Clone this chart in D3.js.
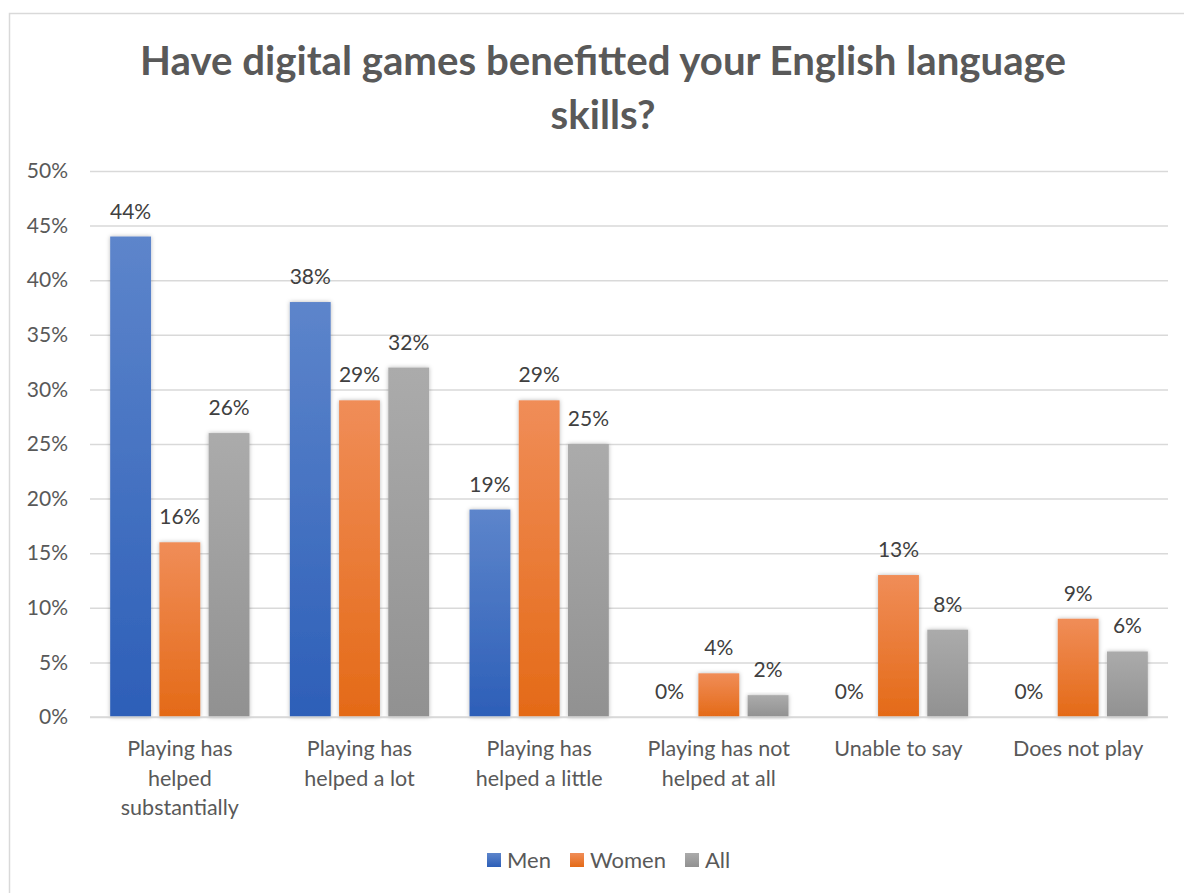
<!DOCTYPE html>
<html>
<head>
<meta charset="utf-8">
<script src="https://cdn.jsdelivr.net/npm/d3@7"></script>
<style>
  html, body { margin: 0; padding: 0; background: #fff; }
  svg { display: block; }
  text { font-family: Lato, "Open Sans", "Liberation Sans", sans-serif; }
</style>
</head>
<body>
<svg id="chart" width="1184" height="893"></svg>
<script>
// Survey answers and the share of each group giving them
const categories = [
  ["Playing has", "helped", "substantially"],
  ["Playing has", "helped a lot"],
  ["Playing has", "helped a little"],
  ["Playing has not", "helped at all"],
  ["Unable to say"],
  ["Does not play"]
];
const seriesNames = ["Men", "Women", "All"];
const men   = [44, 38, 19, 0, 0, 0];
const women = [16, 29, 29, 4, 13, 9];
const all   = [26, 32, 25, 2, 8, 6];
const yTicks = [0, 5, 10, 15, 20, 25, 30, 35, 40, 45, 50];
const titleLines = ["Have digital games benefitted your English language", "skills?"];

const seriesValues = [men, women, all];
const gradStops = [
  ["#5d85cb", "#2d5fb8"],
  ["#f08d58", "#e46a17"],
  ["#ababab", "#919191"]
];

const svg = d3.select("#chart");
const W = 1184, H = 893;
const margin = { left: 90, right: 16, top: 171, bottom: 176 };

// outer frame
svg.append("rect")
  .attr("x", 9.5).attr("y", 13.5)
  .attr("width", W + 10).attr("height", H + 10)
  .attr("fill", "#fff").attr("stroke", "#d9d9d9").attr("stroke-width", 1.5);

const defs = svg.append("defs");
seriesNames.forEach((name, i) => {
  const g = defs.append("linearGradient")
    .attr("id", "grad" + i).attr("x1", 0).attr("y1", 0).attr("x2", 0).attr("y2", 1);
  g.append("stop").attr("offset", "0%").attr("stop-color", gradStops[i][0]);
  g.append("stop").attr("offset", "100%").attr("stop-color", gradStops[i][1]);
});
const shadow = defs.append("filter").attr("id", "shadow")
  .attr("x", "-30%").attr("y", "-10%").attr("width", "160%").attr("height", "120%");
shadow.append("feDropShadow")
  .attr("dx", 0).attr("dy", 0).attr("stdDeviation", 2)
  .attr("flood-color", "#000").attr("flood-opacity", 0.28);

const x = d3.scaleBand()
  .domain(d3.range(categories.length))
  .range([margin.left, W - margin.right]);
const x1 = d3.scaleBand()
  .domain(d3.range(seriesNames.length))
  .range([0, x.bandwidth()])
  .paddingInner(0.17)
  .paddingOuter(0.41);
const y = d3.scaleLinear().domain([0, 50]).range([H - margin.bottom, margin.top]);

// title
svg.append("g").selectAll("text")
  .data(titleLines).join("text")
  .attr("x", 603).attr("y", (d, i) => 75 + i * 54)
  .attr("text-anchor", "middle")
  .attr("font-size", 40.2).attr("font-weight", "bold").attr("fill", "#595959")
  .text(d => d);

// gridlines and y labels
const yAxis = d3.axisLeft(y).tickValues(yTicks).tickFormat(d => d + "%")
  .tickSize(-(W - margin.left - margin.right)).tickPadding(22);
const gy = svg.append("g").attr("transform", `translate(${margin.left},0)`).call(yAxis);
gy.select(".domain").remove();
gy.selectAll(".tick line").attr("stroke", "#d9d9d9").attr("stroke-width", 1.5);
gy.selectAll(".tick text").attr("fill", "#595959").attr("font-size", 21);

// bars
const groups = svg.append("g").selectAll("g")
  .data(categories).join("g")
  .attr("transform", (d, i) => `translate(${x(i)},0)`);
groups.each(function (cat, ci) {
  const g = d3.select(this);
  const vals = seriesValues.map((s, si) => ({ si, v: s[ci] }));
  g.selectAll("rect").data(vals.filter(d => d.v > 0)).join("rect")
    .attr("x", d => x1(d.si))
    .attr("y", d => y(d.v))
    .attr("width", x1.bandwidth())
    .attr("height", d => y(0) - y(d.v))
    .attr("fill", d => `url(#grad${d.si})`)
    .attr("filter", "url(#shadow)");
  g.selectAll("text.val").data(vals).join("text")
    .attr("class", "val")
    .attr("x", d => x1(d.si) + x1.bandwidth() / 2)
    .attr("y", d => y(d.v) - 18)
    .attr("text-anchor", "middle")
    .attr("font-size", 21).attr("fill", "#404040")
    .text(d => d.v + "%");
});

// baseline
svg.append("line")
  .attr("x1", margin.left).attr("x2", W - margin.right)
  .attr("y1", y(0)).attr("y2", y(0))
  .attr("stroke", "#d9d9d9").attr("stroke-width", 1.5);

// category labels
const xl = svg.append("g").selectAll("text")
  .data(categories).join("text")
  .attr("text-anchor", "middle")
  .attr("font-size", 21.5).attr("fill", "#595959");
xl.each(function (lines, i) {
  d3.select(this).selectAll("tspan").data(lines).join("tspan")
    .attr("x", x(i) + x.bandwidth() / 2)
    .attr("y", (d, j) => 756 + j * 29.5)
    .text(d => d);
});

// legend
const legendX = [487, 570, 685];
const lg = svg.append("g").selectAll("g")
  .data(seriesNames).join("g")
  .attr("transform", (d, i) => `translate(${legendX[i]},853)`);
lg.append("rect").attr("width", 14).attr("height", 14)
  .attr("fill", (d, i) => `url(#grad${i})`);
lg.append("text").attr("x", 20).attr("y", 14.5)
  .attr("font-size", 22).attr("fill", "#595959").text(d => d);
</script>
</body>
</html>
